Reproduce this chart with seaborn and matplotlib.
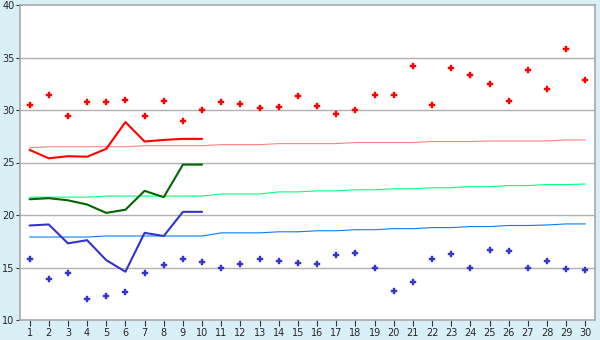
import matplotlib
matplotlib.use("Agg")
import matplotlib.pyplot as plt
import seaborn as sns
import pandas as pd
import numpy as np

days = list(range(1, 31))
tmax_obs = [30.5, 31.4, 29.4, 30.8, 30.8, 31.0, 29.4, 30.9, 29.0, 30.0,
            30.8, 30.6, 30.2, 30.3, 31.3, 30.4, 29.6, 30.0, 31.4, 31.4,
            34.2, 30.5, 34.0, 33.3, 32.5, 30.9, 33.8, 32.0, 35.8, 32.9]
tmin_obs = [15.8, 13.9, 14.5, 12.0, 12.3, 12.7, 14.5, 15.2, 15.8, 15.5,
            14.95, 15.3, 15.8, 15.6, 15.4, 15.3, 16.2, 16.4, 14.95, 12.8,
            13.6, 15.8, 16.3, 15.0, 16.7, 16.6, 14.95, 15.6, 14.85, 14.75]
fc_days = list(range(1, 11))
fc_max = [26.2, 25.4, 25.6, 25.55, 26.3, 28.85, 27.0, 27.15, 27.25, 27.25]
fc_mean = [21.5, 21.6, 21.4, 21.0, 20.2, 20.5, 22.3, 21.7, 24.8, 24.8]
fc_min = [19.0, 19.1, 17.3, 17.6, 15.7, 14.6, 18.3, 18.0, 20.3, 20.3]
norm_max = [26.4, 26.5, 26.5, 26.5, 26.5, 26.5, 26.6, 26.6, 26.6, 26.6,
            26.7, 26.7, 26.7, 26.8, 26.8, 26.8, 26.8, 26.9, 26.9, 26.9,
            26.9, 27.0, 27.0, 27.0, 27.05, 27.05, 27.05, 27.05, 27.15, 27.15]
norm_mean = [21.7, 21.7, 21.7, 21.7, 21.8, 21.8, 21.8, 21.8, 21.8, 21.8,
             22.0, 22.0, 22.0, 22.2, 22.2, 22.3, 22.3, 22.4, 22.4, 22.5,
             22.5, 22.6, 22.6, 22.7, 22.7, 22.8, 22.8, 22.9, 22.9, 22.95]
norm_min = [17.9, 17.9, 17.9, 17.9, 18.0, 18.0, 18.0, 18.0, 18.0, 18.0,
            18.3, 18.3, 18.3, 18.4, 18.4, 18.5, 18.5, 18.6, 18.6, 18.7,
            18.7, 18.8, 18.8, 18.9, 18.9, 19.0, 19.0, 19.05, 19.15, 19.15]
yticks = [10, 15, 20, 25, 30, 35, 40]

obs = pd.DataFrame({"day": days, "tmax": tmax_obs, "tmin": tmin_obs,
                    "nmax": norm_max, "nmean": norm_mean, "nmin": norm_min})
fc = pd.DataFrame({"day": fc_days, "max": fc_max, "mean": fc_mean, "min": fc_min})

sns.set_style("white")
plt.rcParams['font.family'] = ['DejaVu Sans']

bg = "#d9eff6"
grid = "#b0b0b0"
fig = plt.figure(figsize=(6, 3.4), dpi=100, facecolor=bg)
ax = fig.add_axes([20/600, 1-320/340, 575/600, 315/340])
ax.set_facecolor("white")

for y in yticks[1:-1]:
    ax.axhline(y, color=grid, lw=1.0, zorder=0)

sns.lineplot(data=obs, x="day", y="nmax", ax=ax, color="#ff8080", lw=0.8)
sns.lineplot(data=obs, x="day", y="nmean", ax=ax, color="#00ff80", lw=0.8)
sns.lineplot(data=obs, x="day", y="nmin", ax=ax, color="#0080ff", lw=0.8)

sns.lineplot(data=fc, x="day", y="max", ax=ax, color="#ff0000", lw=1.5)
sns.lineplot(data=fc, x="day", y="mean", ax=ax, color="#006600", lw=1.5)
sns.lineplot(data=fc, x="day", y="min", ax=ax, color="#3333cc", lw=1.5)

sns.scatterplot(data=obs, x="day", y="tmax", ax=ax, color="#ff0000",
                marker="P", s=17, linewidth=0.3, edgecolor="#ff0000", zorder=5)
sns.scatterplot(data=obs, x="day", y="tmin", ax=ax, color="#3535c8",
                marker="P", s=17, linewidth=0.3, edgecolor="#3535c8", zorder=5)

ax.set_xlim(0.5, 30.5)
ax.set_ylim(10, 40)
ax.set_xticks(days)
ax.set_xticklabels([str(d) for d in days])
ax.set_yticks(yticks)
ax.set_yticklabels([str(v) for v in yticks])
ax.set_xlabel("")
ax.set_ylabel("")
for s in ax.spines.values():
    s.set_color("#a8a8a8")
    s.set_linewidth(1.2)
ax.tick_params(axis="x", direction="out", length=4, width=0.8, color="#333333",
               labelsize=7, pad=2, bottom=True)
ax.tick_params(axis="y", direction="out", length=3, width=0.8, color="#333333",
               labelsize=7, pad=1, left=True)

fig.savefig("out.png", dpi=100, facecolor=bg)
